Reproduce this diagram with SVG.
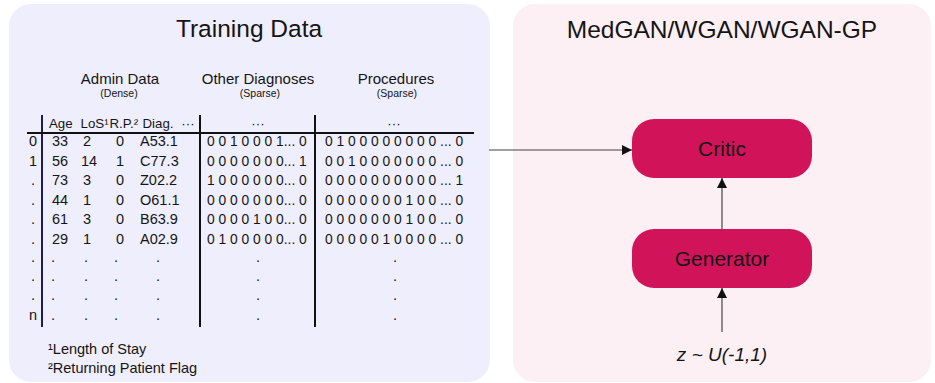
<svg xmlns="http://www.w3.org/2000/svg" width="935" height="383" viewBox="0 0 935 383">
<defs>
<marker id="ah" viewBox="0 0 10 10" refX="10" refY="5" markerWidth="10" markerHeight="10" markerUnits="userSpaceOnUse" orient="auto">
<path d="M0,0 L10,5 L0,10 z" fill="#111"/>
</marker>
</defs>
<style>
text{font-family:"Liberation Sans",Arial,sans-serif;fill:#151515}
.title{font-size:24.5px;text-anchor:middle}
.sub{font-size:15px;text-anchor:middle}
.small{font-size:10.5px;text-anchor:middle}
.t{font-size:14.5px}
.h{font-size:13.3px}
.sp{font-size:13.8px}
.m{text-anchor:middle}
.node{font-size:21px;text-anchor:middle}
.tl{stroke:#111;stroke-width:2;fill:none}
.conn{stroke:#444;stroke-width:1.2;fill:none}
</style>
<g id="training-data">
<rect x="9" y="4" width="481" height="378" rx="22" fill="#efeefc"/>
<text class="title" x="249" y="37">Training Data</text>
<text class="sub" x="120" y="84">Admin Data</text>
<text class="small" x="119" y="97">(Dense)</text>
<text class="sub" x="258" y="84">Other Diagnoses</text>
<text class="small" x="260" y="97">(Sparse)</text>
<text class="sub" x="396" y="84">Procedures</text>
<text class="small" x="397" y="97">(Sparse)</text>
<line class="tl" x1="42" y1="115" x2="42" y2="327" style="stroke:#1e1c52"/>
<line class="tl" x1="200" y1="115" x2="200" y2="327"/>
<line class="tl" x1="315" y1="115" x2="315" y2="327"/>
<line class="tl" x1="27" y1="133" x2="474" y2="133"/>
<g class="h">
<text x="49" y="128">Age</text>
<text x="80.5" y="128">LoS¹</text>
<text x="109.5" y="128">R.P.²</text>
<text x="142.5" y="128">Diag.</text>
<text x="188" y="128" class="m">···</text>
<text x="258" y="128" class="m">···</text>
<text x="394" y="128" class="m">···</text>
</g>
<g class="t">
<text class="m" x="33" y="146">0</text><text x="52" y="146">33</text><text x="83" y="146">2</text><text x="116" y="146">0</text><text x="140" y="146">A53.1</text>
<text class="m" x="33" y="165.5">1</text><text x="52" y="165.5">56</text><text x="81" y="165.5">14</text><text x="116" y="165.5">1</text><text x="140" y="165.5">C77.3</text>
<text class="m" x="33" y="185">.</text><text x="52" y="185">73</text><text x="83" y="185">3</text><text x="116" y="185">0</text><text x="140" y="185">Z02.2</text>
<text class="m" x="33" y="204.5">.</text><text x="52" y="204.5">44</text><text x="83" y="204.5">1</text><text x="116" y="204.5">0</text><text x="140" y="204.5">O61.1</text>
<text class="m" x="33" y="224">.</text><text x="52" y="224">61</text><text x="83" y="224">3</text><text x="116" y="224">0</text><text x="140" y="224">B63.9</text>
<text class="m" x="33" y="243.5">.</text><text x="52" y="243.5">29</text><text x="83" y="243.5">1</text><text x="116" y="243.5">0</text><text x="140" y="243.5">A02.9</text>
</g>
<g class="sp">
<text x="207" y="146">0 0 1 0 0 0 1... 0</text><text x="325" y="146">0 1 0 0 0 0 0 0 0 0 ... 0</text>
<text x="207" y="165.5">0 0 0 0 0 0 0... 1</text><text x="325" y="165.5">0 0 1 0 0 0 0 0 0 0 ... 0</text>
<text x="207" y="185">1 0 0 0 0 0 0... 0</text><text x="325" y="185">0 0 0 0 0 0 0 0 0 0 ... 1</text>
<text x="207" y="204.5">0 0 0 0 0 0 0... 0</text><text x="325" y="204.5">0 0 0 0 0 0 0 1 0 0 ... 0</text>
<text x="207" y="224">0 0 0 0 1 0 0... 0</text><text x="325" y="224">0 0 0 0 0 0 0 1 0 0 ... 0</text>
<text x="207" y="243.5">0 1 0 0 0 0 0... 0</text><text x="325" y="243.5">0 0 0 0 0 1 0 0 0 0 ... 0</text>
</g>
<g class="t m">
<text x="33" y="262">.</text><text x="53" y="262">.</text><text x="86" y="262">.</text><text x="116" y="262">.</text><text x="158" y="262">.</text><text x="258" y="262">.</text><text x="395" y="262">.</text>
<text x="33" y="281">.</text><text x="53" y="281">.</text><text x="86" y="281">.</text><text x="116" y="281">.</text><text x="158" y="281">.</text><text x="258" y="281">.</text><text x="395" y="281">.</text>
<text x="33" y="300">.</text><text x="53" y="300">.</text><text x="86" y="300">.</text><text x="116" y="300">.</text><text x="158" y="300">.</text><text x="258" y="300">.</text><text x="395" y="300">.</text>
<text x="33" y="319.5">n</text><text x="53" y="319.5">.</text><text x="86" y="319.5">.</text><text x="116" y="319.5">.</text><text x="158" y="319.5">.</text><text x="258" y="319.5">.</text><text x="395" y="319.5">.</text>
</g>
<text class="t" x="48" y="354">¹Length of Stay</text>
<text class="t" x="48" y="373">²Returning Patient Flag</text>
</g>
<g id="gan-panel">
<rect x="513" y="4" width="418" height="378" rx="22" fill="#fcf0f4"/>
<text class="title" x="722" y="38">MedGAN/WGAN/WGAN-GP</text>
</g>
<g id="critic">
<rect x="632" y="119" width="180" height="59" rx="22" fill="#d1145a"/>
<text class="node" x="722" y="156">Critic</text>
</g>
<g id="generator">
<rect x="632" y="229" width="180" height="59" rx="22" fill="#d1145a"/>
<text class="node" x="722" y="266">Generator</text>
</g>
<g id="noise">
<text x="722" y="361" style="font-size:19px;font-style:italic;text-anchor:middle">z ~ U(-1,1)</text>
</g>
<g id="connectors">
<line class="conn" x1="489" y1="150" x2="632" y2="150" marker-end="url(#ah)"/>
<line class="conn" x1="722" y1="229" x2="722" y2="178" marker-end="url(#ah)"/>
<line class="conn" x1="722" y1="332" x2="722" y2="288" marker-end="url(#ah)"/>
</g>
</svg>
